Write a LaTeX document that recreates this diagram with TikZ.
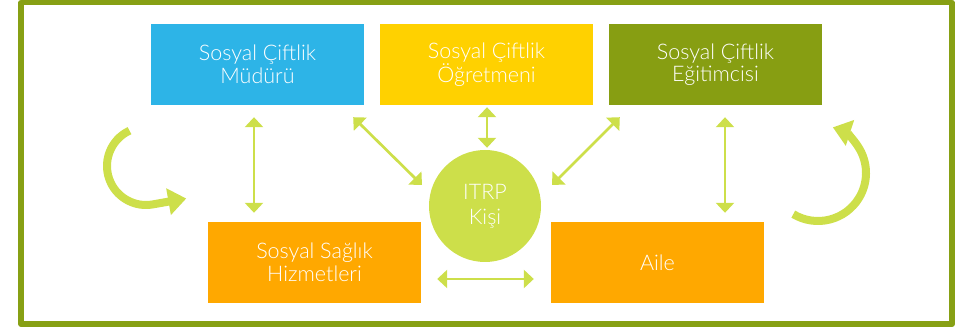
\documentclass[tikz,border=0pt]{standalone}
\usepackage{fontspec}
\setmainfont{Lato Light}
\usetikzlibrary{arrows.meta}

\begin{document}
\begin{tikzpicture}[x=1pt, y=-1pt, line join=round,
  role/.style={rectangle, inner sep=0pt, minimum width=213pt, minimum height=81pt,
    text=white, align=center, font=\fontsize{21.5}{22.5}\selectfont},
  link/.style={draw=limegreen, line width=2.7pt,
    {Triangle[width=18pt,length=10pt]}-{Triangle[width=18pt,length=10pt]}},
  turn/.style={draw=limegreen, line width=8pt, -{Triangle[width=26pt,length=18pt]}}]

% --- Colors ---
\definecolor{farmblue}{HTML}{2DB4E7}
\definecolor{farmyellow}{HTML}{FFD100}
\definecolor{farmolive}{HTML}{879E12}
\definecolor{farmorange}{HTML}{FFA800}
\definecolor{limegreen}{HTML}{CDDF4A}
\definecolor{framegreen}{HTML}{87A014}

\useasboundingbox (0,0) rectangle (957,328);

% --- Frame ---
\draw[framegreen, line width=5.7pt] (21.2,2.6) rectangle (952,324.2);

% --- Roles ---
\node[role, fill=farmblue]   (mudur)    at (257.5,64.5) {Sosyal Çiftlik\\Müdürü};
\node[role, fill=farmyellow] (ogretmen) at (486.5,64.5) {Sosyal Çiftlik\\Öğretmeni};
\node[role, fill=farmolive]  (egitimci) at (715.5,64.5) {Sosyal Çiftlik\\Eğitimcisi};
\node[role, fill=farmorange] (saglik)   at (314.5,262.5) {Sosyal Sağlık\\Hizmetleri};
\node[role, fill=farmorange] (aile)     at (657.5,262.5) {\raisebox{-4pt}{Aile}};

% --- Person in the middle ---
\node[circle, fill=limegreen, minimum size=112pt, inner sep=0pt, text=white,
  align=center, font=\fontsize{21.5}{25}\selectfont] (itrp) at (485,206) {ITRP\\Kişi};

% --- Links ---
\draw[link] ([shift={(-3.5,12)}]mudur.south) -- ([shift={(-60.5,-9)}]saglik.north);
\draw[link] ([shift={(9.5,12)}]egitimci.south) -- ([shift={(67.5,-9)}]aile.north);
\draw[link] ([shift={(0.5,2)}]ogretmen.south) -- ([shift={(2,-2)}]itrp.north);
\draw[link] ([shift={(-11,12)}]mudur.south east) -- ([shift={(-63,-21)}]itrp.center);
\draw[link] ([shift={(11,12)}]egitimci.south west) -- ([shift={(67,-21)}]itrp.center);
\draw[link] ([shift={(16,16.5)}]saglik.east) -- ([shift={(-17,16.5)}]aile.west);

% --- Cycle arrows ---
\draw[turn] (146,166) ++(245:39) arc (245:80:39) -- ++(-10:34);
\draw[turn] (818,173) ++(121:48) arc (121:-72:48);

\end{tikzpicture}
\end{document}
